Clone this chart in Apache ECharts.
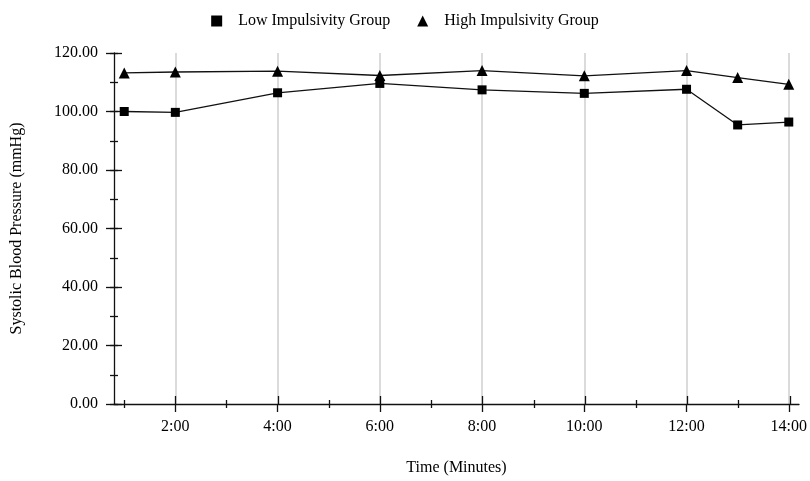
<!DOCTYPE html>
<html>
<head>
<meta charset="utf-8">
<script src="https://cdn.jsdelivr.net/npm/echarts@6/dist/echarts.min.js"></script>
<style>
  html, body { margin: 0; padding: 0; background: #fff; }
  #chart { width: 810px; height: 481px; }
</style>
</head>
<body>
<div id="chart"></div>
<script>
// time in minutes
var minutes = [1, 2, 4, 6, 8, 10, 12, 13, 14];
var lowGroup = [100.0, 99.7, 106.4, 109.6, 107.4, 106.2, 107.6, 95.4, 96.4];
var highGroup = [113.2, 113.5, 113.8, 112.3, 114.0, 112.2, 114.0, 111.6, 109.3];
var majorTicks = [2, 4, 6, 8, 10, 12, 14];
var minorTicks = [1, 3, 5, 7, 9, 11, 13];

var font = 'Liberation Serif';
var gridBox = { left: 114, right: 10, top: 53, bottom: 77 };

function pairs(ys) {
	var out = [];
	for (var i = 0; i < minutes.length; i++) {
		out.push([minutes[i], ys[i]]);
	}
	return out;
}

// overlay axis used only to draw a set of ticks (inside or outside)
function tickXAxis(idx, values, len, inside) {
	return {
		type: 'value', gridIndex: idx, min: 0.8, max: 14.2,
		axisLine: { show: false },
		axisLabel: { show: false },
		splitLine: { show: false },
		axisTick: { show: true, inside: inside, length: len, customValues: values,
			lineStyle: { color: '#111', width: 1.3 } }
	};
}
function tickYAxis(idx, step, len, inside) {
	return {
		type: 'value', gridIndex: idx, min: 0, max: 120, interval: step,
		axisLine: { show: false },
		axisLabel: { show: false },
		splitLine: { show: false },
		axisTick: { show: true, inside: inside, length: len,
			lineStyle: { color: '#111', width: 1.3 } }
	};
}

var chart = echarts.init(document.getElementById('chart'));

var option = {
	backgroundColor: '#fff',
	animation: false,
	textStyle: { fontFamily: font, color: '#000' },
	legend: {
		top: 8,
		left: 'center',
		itemWidth: 11,
		itemHeight: 11,
		itemGap: 27,
		textStyle: { fontFamily: font, fontSize: 16, color: '#000', padding: [0, 0, 0, 11] },
		data: [
			{ name: 'Low Impulsivity Group', icon: 'rect' },
			{ name: 'High Impulsivity Group', icon: 'triangle' }
		]
	},
	grid: [
		Object.assign({}, gridBox),
		Object.assign({}, gridBox),
		Object.assign({}, gridBox),
		Object.assign({}, gridBox)
	],
	xAxis: [
		{
			type: 'value', gridIndex: 0, min: 0.8, max: 14.2,
			name: 'Time (Minutes)',
			nameLocation: 'middle',
			nameGap: 56,
			nameTextStyle: { fontFamily: font, fontSize: 16, color: '#000' },
			axisLine: { show: true, onZero: false, lineStyle: { color: '#111', width: 1.3 } },
			axisTick: { show: true, length: 8, customValues: majorTicks,
				lineStyle: { color: '#111', width: 1.3 } },
			axisLabel: { customValues: majorTicks, margin: 15, fontFamily: font, fontSize: 16, color: '#000',
				formatter: function (v) { return v + ':00'; } },
			splitLine: { show: true, lineStyle: { color: '#cfcfcf', width: 1.5 } }
		},
		tickXAxis(1, majorTicks, 8, true),
		tickXAxis(2, minorTicks, 4, false),
		tickXAxis(3, minorTicks, 4, true)
	],
	yAxis: [
		{
			type: 'value', gridIndex: 0, min: 0, max: 120, interval: 20,
			name: 'Systolic Blood Pressure (mmHg)',
			nameLocation: 'middle',
			nameGap: 89,
			nameTextStyle: { fontFamily: font, fontSize: 16, color: '#000' },
			axisLine: { show: true, lineStyle: { color: '#111', width: 1.3 } },
			axisTick: { show: true, length: 8, lineStyle: { color: '#111', width: 1.3 } },
			axisLabel: { margin: 16, fontFamily: font, fontSize: 16, color: '#000',
				formatter: function (v) { return v.toFixed(2); } },
			splitLine: { show: false }
		},
		tickYAxis(1, 20, 8, true),
		tickYAxis(2, 10, 4, false),
		tickYAxis(3, 10, 4, true)
	],
	series: [
		{
			name: 'Low Impulsivity Group',
			type: 'line',
			xAxisIndex: 0, yAxisIndex: 0,
			symbol: 'rect',
			symbolSize: 9,
			itemStyle: { color: '#000' },
			lineStyle: { color: '#111', width: 1.3 },
			data: pairs(lowGroup)
		},
		{
			name: 'High Impulsivity Group',
			type: 'line',
			xAxisIndex: 0, yAxisIndex: 0,
			symbol: 'triangle',
			symbolSize: 11,
			itemStyle: { color: '#000' },
			lineStyle: { color: '#111', width: 1.3 },
			data: pairs(highGroup)
		}
	]
};

chart.setOption(option);
</script>
</body>
</html>
